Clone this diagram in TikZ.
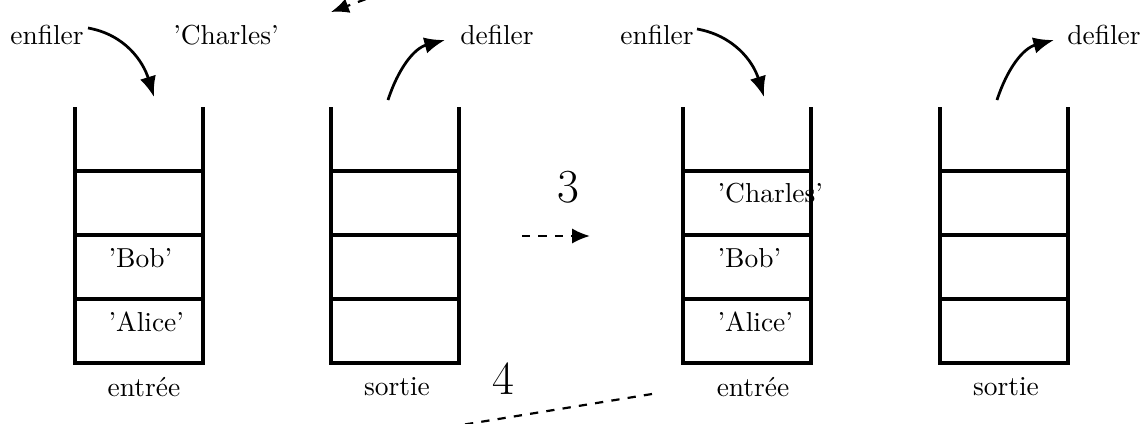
\documentclass[tikz,border=0pt]{standalone}
\usetikzlibrary{arrows.meta}
\begin{document}
\begin{tikzpicture}[x=0.0128cm,y=-0.0128cm,
  wall/.style={line width=1.1pt},
  flow/.style={line width=1pt,-{Latex[length=7.5pt,width=6pt]}},
  stepflow/.style={thick,dashed,-{Latex[length=6.5pt,width=5.5pt]}},
  cell/.style={anchor=west,inner sep=0pt},
  lbl/.style={inner sep=0pt}]
\clip (0,0) rectangle (1148,423);

% the four stacks: open at the top, three separators each
\foreach \sx in {75,331,683,940}{
  \draw[wall] (\sx,107) -- (\sx,363) -- (\sx+128,363) -- (\sx+128,107);
  \foreach \sy in {171,235,299}
    \draw[wall] (\sx,\sy) -- (\sx+128,\sy);
}

% labels above the stacks
\node[lbl] (enf1) at (47,35) {enfiler};
\node[lbl] (charles) at (226,35) {'Charles'};
\node[lbl] (def1) at (497,35) {defiler};
\node[lbl] (enf2) at (657,35) {enfiler};
\node[lbl] (def2) at (1104,35) {defiler};

% contents of the entry stacks
\node[cell] (bob1) at (108,258) {'Bob'};
\node[cell] (alice1) at (108,322) {'Alice'};
\node[cell] (charles2) at (717,193) {'Charles'};
\node[cell] (bob2) at (717,258) {'Bob'};
\node[cell] (alice2) at (717,322) {'Alice'};

% labels under the stacks
\node[lbl] (in1) at (144,387) {entrée};
\node[lbl] (out1) at (397,387) {sortie};
\node[lbl] (in2) at (753,387) {entrée};
\node[lbl] (out2) at (1006,387) {sortie};

% step numbers
\node[lbl] (three) at (568,187) {\LARGE 3};
\node[lbl] (four) at (503,379) {\LARGE 4};

% anchor points for the connectors
\coordinate (top1) at (154,97);
\coordinate (bot2) at (388,100);
\coordinate (top3) at (764,97);
\coordinate (bot4) at (997,100);
\coordinate (s3a) at (522,236);
\coordinate (s3b) at (590,236);
\coordinate (upA) at (412,-18);
\coordinate (upB) at (331,12);
\coordinate (lowA) at (652,394);
\coordinate (lowB) at (400,435);

% enqueue / dequeue arrows
\draw[flow] (88,28) to[out=-10,in=107] (top1);
\draw[flow] (bot2) to[out=72,in=195] (445,40);
\draw[flow] (697,29) to[out=-10,in=107] (top3);
\draw[flow] (bot4) to[out=72,in=195] (1054,40);

% dashed transitions
\draw[stepflow] (s3a) -- (s3b);
\draw[stepflow] (upA) -- (upB);
\draw[thick,dashed] (lowA) -- (lowB);
\end{tikzpicture}
\end{document}
